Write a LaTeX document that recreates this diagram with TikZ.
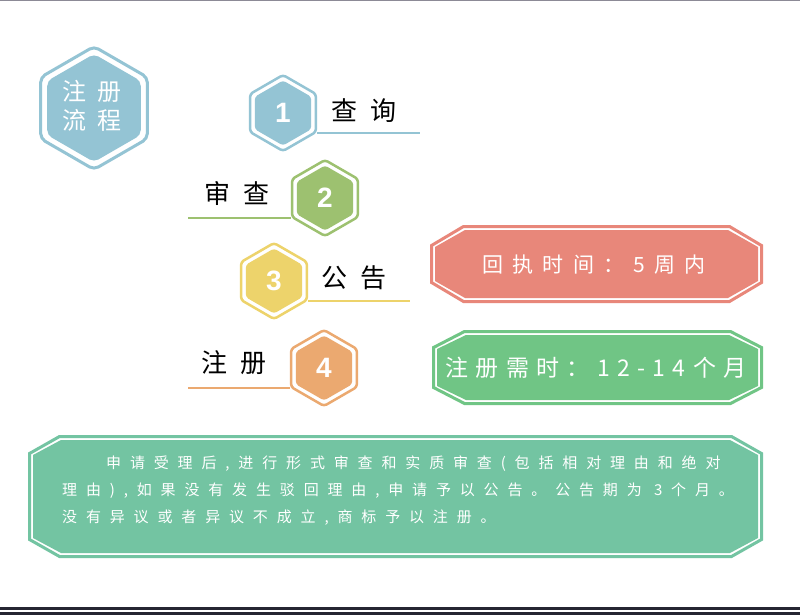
\documentclass[tikz,border=0pt]{standalone}
\usepackage{fontspec}
\setmainfont{Noto Sans CJK SC}
\newfontfamily\numfont{Liberation Sans}
\usetikzlibrary{shapes.geometric}

\definecolor{hexblue}{RGB}{148,196,212}
\definecolor{hexgreen}{RGB}{157,193,112}
\definecolor{hexyellow}{RGB}{237,211,107}
\definecolor{hexorange}{RGB}{235,169,112}
\definecolor{boxpink}{RGB}{232,135,122}
\definecolor{boxgreen}{RGB}{112,197,133}
\definecolor{boxteal}{RGB}{115,196,162}
\definecolor{bardark}{RGB}{38,38,50}
\definecolor{linegray}{RGB}{140,138,150}

% chamfered box: x1,y1,x2,y2,dx,dy
\newcommand{\chambox}[6]{(#1+#5,#2) -- (#3-#5,#2) -- (#3,#2+#6) -- (#3,#4-#6) -- (#3-#5,#4) -- (#1+#5,#4) -- (#1,#4-#6) -- (#1,#2+#6) -- cycle}

\tikzset{
  hexring/.style={regular polygon, regular polygon sides=6, shape border rotate=30,
    draw=#1, line width=2.5pt, minimum size=76pt, inner sep=0pt, rounded corners=3pt},
  hexcore/.style={regular polygon, regular polygon sides=6, shape border rotate=30,
    fill=#1, minimum size=65pt, inner sep=0pt, rounded corners=3pt, text=white,
    font=\numfont\bfseries\fontsize{28}{28}\selectfont},
  steplabel/.style={inner sep=0pt, text=black,
    font=\fontsize{26}{26}\selectfont\addfontfeature{LetterSpace=52}},
  stepline/.style={draw=#1, line width=2pt},
  boxtext/.style={inner sep=0pt, text=white},
}

\begin{document}
\begin{tikzpicture}[x=1pt,y=-1pt]
  \useasboundingbox (0,0) rectangle (800,615);
  \fill[white] (0,0) rectangle (800,615);
  \draw[linegray, line width=1.5pt] (0,0.75) -- (800,0.75);
  \fill[bardark] (0,606.5) rectangle (800,610);
  \fill[bardark] (0,611.5) rectangle (800,615);

  % title hexagon
  \node[hexring=hexblue, minimum size=123pt, line width=3pt, rounded corners=5pt] (flow) at (94,108) {};
  \node[hexcore=hexblue, minimum size=108pt, rounded corners=5pt] (flowc) at (flow) {};
  \node[boxtext, align=center, font=\fontsize{24}{29}\selectfont\addfontfeature{LetterSpace=42}] (title) at (92,106) {注册\\流程};

  % steps
  \coordinate (e1) at (420,0);
  \coordinate (e2) at (188,0);
  \coordinate (e3) at (410,0);
  \coordinate (e4) at (188,0);

  \node[hexring=hexblue] (h1) at (283,113) {};
  \node[hexring=hexgreen] (h2) at (325,198) {};
  \node[hexring=hexyellow] (h3) at (274,281) {};
  \node[hexring=hexorange] (h4) at (324,368) {};

  \draw[stepline=hexblue] (h1.-30) -- (e1 |- h1.-30);
  \draw[stepline=hexgreen] (h2.-150) -- (e2 |- h2.-150);
  \draw[stepline=hexyellow] (h3.-30) -- (e3 |- h3.-30);
  \draw[stepline=hexorange] (h4.-150) -- (e4 |- h4.-150);

  \node[hexcore=hexblue] (n1) at (h1) {1};
  \node[hexcore=hexgreen] (n2) at (h2) {2};
  \node[hexcore=hexyellow] (n3) at (h3) {3};
  \node[hexcore=hexorange] (n4) at (h4) {4};

  \node[steplabel] (t1) at (364,111) {查询};
  \node[steplabel] (t2) at (237,194) {审查};
  \node[steplabel] (t3) at (354,278) {公告};
  \node[steplabel] (t4) at (234,363) {注册};

  % info boxes
  \draw[boxpink, line width=3pt] \chambox{431.5}{226.5}{761.5}{301.5}{32}{19};
  \fill[boxpink] \chambox{435}{230}{758}{298}{30}{17};
  \node[boxtext, font=\fontsize{21}{21}\selectfont\addfontfeature{LetterSpace=44}] (receipt) at (594,265) {回执时间：5周内};

  \draw[boxgreen, line width=3pt] \chambox{433.5}{331.5}{761.5}{403.5}{31}{16};
  \fill[boxgreen] \chambox{437}{335}{758}{400}{29}{14};
  \node[boxtext, font=\fontsize{23}{23}\selectfont\addfontfeature{LetterSpace=32}] (period) at (596,368) {注册需时：12-14个月};

  \draw[boxteal, line width=3pt] \chambox{29.5}{436.5}{761.5}{556.5}{30}{17};
  \fill[boxteal] \chambox{33}{440}{758}{553}{28}{15};
  \node[boxtext, anchor=north west, align=left, font=\fontsize{15}{27}\selectfont\addfontfeature{LetterSpace=59}] (note) at (62,456)
    {\hspace*{44pt}申请受理后,进行形式审查和实质审查(包括相对理由和绝对\\
     理由),如果没有发生驳回理由,申请予以公告。公告期为 3个月。\\
     没有异议或者异议不成立,商标予以注册。};
\end{tikzpicture}
\end{document}
